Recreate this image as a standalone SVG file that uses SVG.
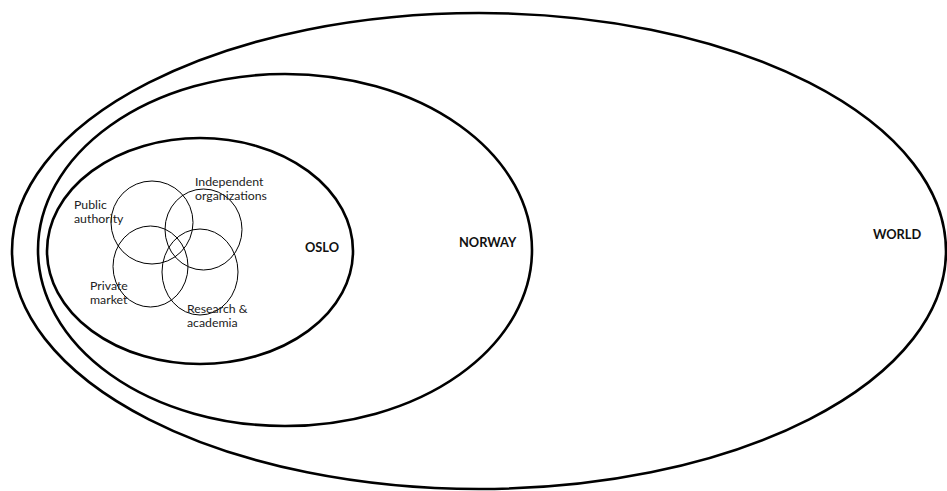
<svg xmlns="http://www.w3.org/2000/svg" width="947" height="491" viewBox="0 0 947 491">
<style>
.big{fill:none;stroke:#000;stroke-width:2.6}
.small{fill:none;stroke:#000;stroke-width:1}
.lbl{font-family:Lato,"Open Sans","Liberation Sans",sans-serif;font-size:12.3px;fill:#222}
.title{font-family:Lato,"Open Sans","Liberation Sans",sans-serif;font-size:12.8px;font-weight:bold;fill:#111}
</style>
<rect width="947" height="491" fill="#fff"/>
<g id="world"><ellipse class="big" cx="479" cy="251" rx="467" ry="238"/><text class="title" x="873" y="239">WORLD</text></g>
<g id="norway"><ellipse class="big" cx="285" cy="250" rx="247" ry="176"/><text class="title" x="459" y="247">NORWAY</text></g>
<g id="oslo"><ellipse class="big" cx="200" cy="251" rx="153" ry="113"/><text class="title" x="305" y="252">OSLO</text></g>
<g id="public-authority"><ellipse class="small" cx="152" cy="222.5" rx="41" ry="41.5"/><text class="lbl" x="74" y="209">Public</text><text class="lbl" x="74" y="223">authority</text></g>
<g id="independent-organizations"><ellipse class="small" cx="203.5" cy="229.5" rx="38.5" ry="40.5"/><text class="lbl" x="195" y="186">Independent</text><text class="lbl" x="195" y="200">organizations</text></g>
<g id="private-market"><ellipse class="small" cx="150.5" cy="266.5" rx="37.5" ry="40.5"/><text class="lbl" x="90" y="290">Private</text><text class="lbl" x="90" y="304">market</text></g>
<g id="research-academia"><ellipse class="small" cx="200" cy="272" rx="38" ry="43"/><text class="lbl" x="187" y="313">Research &amp;</text><text class="lbl" x="187" y="327">academia</text></g>
<g id="connectors"/>
</svg>
